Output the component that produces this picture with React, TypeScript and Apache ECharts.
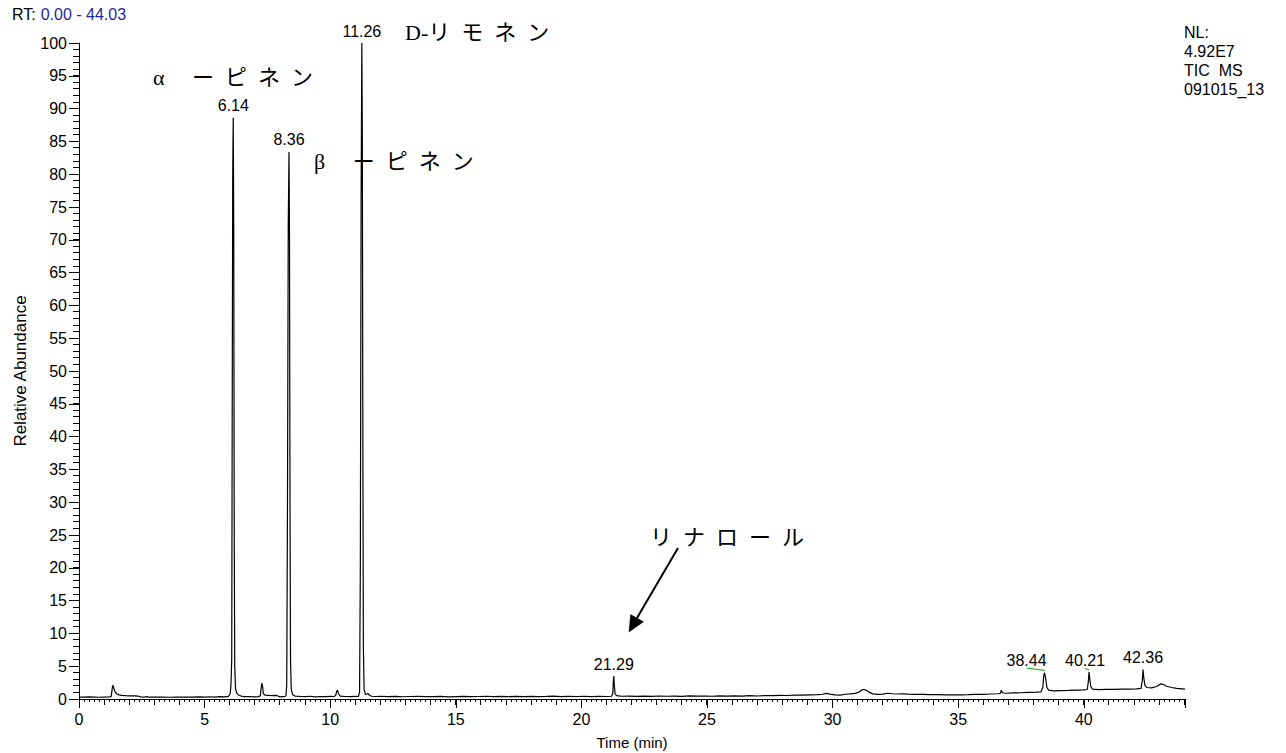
import React, { useEffect, useRef } from "react";
import * as echarts from "echarts";

// Chromatogram trace: [retention time (min), relative abundance (%)]
const chromatogram: [number, number][] = [
  [0.0, 0.3], [0.2, 0.28], [0.4, 0.32], [0.6, 0.3], [0.8, 0.27], [1.0, 0.3], [1.2, 0.31],
  [1.28, 0.35], [1.31, 1.2], [1.34, 2.1], [1.37, 1.9], [1.41, 1.3], [1.46, 0.95], [1.52, 0.75],
  [1.6, 0.62], [1.7, 0.55], [1.85, 0.5], [2.0, 0.48], [2.2, 0.47], [2.35, 0.45], [2.45, 0.33],
  [2.6, 0.3], [2.7, 0.36], [2.75, 0.3], [3.0, 0.28], [3.3, 0.3], [3.6, 0.27], [3.9, 0.3],
  [4.2, 0.28], [4.5, 0.3], [4.8, 0.32], [5.0, 0.29], [5.2, 0.34], [5.4, 0.3], [5.6, 0.35],
  [5.8, 0.31], [5.95, 0.4], [6.02, 0.8], [6.05, 2.2], [6.08, 6], [6.1, 45], [6.12, 80],
  [6.14, 88.6], [6.16, 72], [6.18, 25], [6.2, 5], [6.23, 1.6], [6.28, 0.9], [6.35, 0.6],
  [6.45, 0.45], [6.6, 0.35], [6.8, 0.38], [7.0, 0.33], [7.15, 0.36], [7.22, 0.5], [7.25, 1.6],
  [7.28, 2.4], [7.31, 1.9], [7.34, 0.8], [7.4, 0.6], [7.55, 0.55], [7.7, 0.52], [7.85, 0.55],
  [7.92, 0.45], [8.0, 0.33], [8.15, 0.35], [8.24, 0.45], [8.27, 2.2], [8.3, 30], [8.33, 72],
  [8.36, 83.4], [8.38, 70], [8.4, 30], [8.42, 6], [8.45, 1.5], [8.5, 0.7], [8.6, 0.45],
  [8.8, 0.4], [9.0, 0.36], [9.2, 0.42], [9.4, 0.33], [9.6, 0.38], [9.8, 0.35], [10.0, 0.4],
  [10.15, 0.38], [10.22, 0.55], [10.26, 1.2], [10.29, 1.35], [10.33, 0.8], [10.4, 0.45],
  [10.6, 0.38], [10.8, 0.36], [11.0, 0.4], [11.12, 0.38], [11.17, 1.0], [11.2, 20], [11.23, 75],
  [11.26, 100], [11.28, 85], [11.3, 40], [11.32, 8], [11.35, 1.5], [11.4, 0.7], [11.45, 0.75],
  [11.5, 0.85], [11.55, 0.6], [11.65, 0.42], [11.8, 0.38], [12.0, 0.42], [12.3, 0.36],
  [12.6, 0.4], [12.9, 0.34], [13.2, 0.38], [13.5, 0.41], [13.8, 0.35], [14.1, 0.37], [14.4, 0.4],
  [14.7, 0.33], [15.0, 0.36], [15.3, 0.39], [15.6, 0.35], [15.9, 0.38], [16.2, 0.42], [16.5, 0.36],
  [16.8, 0.39], [17.1, 0.35], [17.4, 0.4], [17.7, 0.37], [18.0, 0.41], [18.3, 0.36], [18.6, 0.39],
  [18.9, 0.43], [19.2, 0.37], [19.5, 0.4], [19.8, 0.38], [20.1, 0.42], [20.4, 0.37], [20.7, 0.4],
  [21.0, 0.38], [21.2, 0.42], [21.25, 0.8], [21.27, 2.6], [21.29, 3.5], [21.31, 2.2], [21.34, 0.8],
  [21.4, 0.5], [21.6, 0.42], [21.9, 0.45], [22.2, 0.4], [22.5, 0.44], [22.8, 0.41], [23.1, 0.46],
  [23.4, 0.42], [23.7, 0.45], [24.0, 0.4], [24.3, 0.47], [24.6, 0.43], [24.9, 0.46], [25.2, 0.42],
  [25.5, 0.48], [25.8, 0.44], [26.1, 0.47], [26.4, 0.45], [26.7, 0.5], [27.0, 0.46], [27.3, 0.52],
  [27.6, 0.5], [27.9, 0.55], [28.2, 0.53], [28.5, 0.6], [28.8, 0.58], [29.1, 0.62], [29.4, 0.66],
  [29.6, 0.72], [29.75, 0.85], [29.9, 0.75], [30.1, 0.62], [30.3, 0.6], [30.5, 0.72], [30.7, 0.78],
  [30.9, 0.85], [31.05, 1.05], [31.2, 1.45], [31.3, 1.4], [31.45, 1.05], [31.6, 0.78], [31.8, 0.7],
  [32.0, 0.75], [32.2, 0.88], [32.4, 0.8], [32.6, 0.76], [32.8, 0.8], [33.0, 0.74], [33.3, 0.72],
  [33.6, 0.7], [33.9, 0.68], [34.2, 0.66], [34.5, 0.64], [34.8, 0.62], [35.1, 0.64], [35.4, 0.66],
  [35.7, 0.7], [36.0, 0.72], [36.3, 0.76], [36.6, 0.8], [36.68, 0.85], [36.72, 1.35], [36.76, 0.95],
  [36.9, 0.88], [37.2, 0.92], [37.5, 0.95], [37.8, 1.0], [38.1, 1.05], [38.3, 1.1], [38.37, 1.8],
  [38.41, 3.6], [38.44, 4.0], [38.48, 3.2], [38.53, 1.8], [38.6, 1.35], [38.8, 1.25], [39.1, 1.28],
  [39.4, 1.3], [39.7, 1.35], [40.0, 1.38], [40.14, 1.45], [40.18, 2.6], [40.21, 4.1], [40.24, 3.0],
  [40.28, 1.9], [40.35, 1.5], [40.6, 1.42], [40.9, 1.46], [41.2, 1.48], [41.5, 1.5], [41.8, 1.52],
  [42.1, 1.55], [42.28, 1.62], [42.33, 2.8], [42.36, 4.5], [42.39, 3.2], [42.44, 2.0], [42.52, 1.75],
  [42.7, 1.7], [42.9, 1.9], [43.05, 2.3], [43.15, 2.25], [43.3, 1.95], [43.5, 1.75], [43.7, 1.62],
  [43.9, 1.55], [44.03, 1.5],
];

// Labelled peaks
const peakTimes = [6.14, 8.36, 11.26, 21.29, 38.44, 40.21, 42.36];
const peakHeights = [88.6, 83.4, 100, 3.5, 4.0, 4.1, 4.5];
const peakLabels = ["6.14", "8.36", "11.26", "21.29", "38.44", "40.21", "42.36"];

// Compound annotations
const compoundNames = ["α ーピネン", "β ーピネン", "D-リモネン", "リナロール"];

const X_MIN = 0;
const X_MAX = 44.03;
const Y_MIN = 0;
const Y_MAX = 100;

const AXIS_FONT = "Arial, 'Liberation Sans', sans-serif";
const JP_FONT = "'Liberation Serif', 'Noto Sans CJK JP', serif";

export default function App() {
  const ref = useRef<HTMLDivElement>(null);

  useEffect(() => {
    if (!ref.current) return;
    const chart = echarts.init(ref.current, undefined, { renderer: "svg" });

    const labelShift: Record<string, number[]> = { "38.44": [-18, 0], "40.21": [-4, 0] };

    const spaced = (s: string) => s.split("").join("\u2002");

    const jpText = (text: string, x: number, y: number) => ({
      type: "text",
      x,
      y,
      style: {
        text,
        fill: "#000",
        fontSize: 22,
        fontFamily: JP_FONT,
        textAlign: "left",
        textVerticalAlign: "middle",
        align: "left",
        verticalAlign: "middle",
      },
    });

    const option: any = {
      animation: false,
      backgroundColor: "#ffffff",
      title: [
        {
          text: "{a|RT:} {b|0.00 - 44.03}",
          left: 12,
          top: 5,
          padding: 0,
          textStyle: {
            fontWeight: "normal",
            rich: {
              a: { color: "#000", fontSize: 16, fontFamily: AXIS_FONT, fontWeight: "normal" },
              b: { color: "#1f1fa3", fontSize: 16, fontFamily: AXIS_FONT, fontWeight: "normal" },
            },
          },
        },
        {
          text: "NL:\n4.92E7\nTIC  MS\n091015_13",
          left: 1184,
          top: 23,
          padding: 0,
          textStyle: {
            color: "#000",
            fontSize: 16,
            fontWeight: "normal",
            fontFamily: AXIS_FONT,
            lineHeight: 19,
          },
        },
      ],
      grid: {
        left: 79,
        right: 101,
        top: 43,
        bottom: 54,
        containLabel: false,
        outerBoundsMode: "none",
      },
      xAxis: {
        type: "value",
        min: X_MIN,
        max: X_MAX,
        interval: 5,
        position: "bottom",
        splitLine: { show: false },
        axisLine: { show: true, onZero: false, lineStyle: { color: "#000", width: 1 } },
        axisTick: { show: true, inside: false, length: 9, lineStyle: { color: "#000", width: 1 } },
        axisLabel: {
          show: true,
          color: "#000",
          fontSize: 16,
          fontFamily: AXIS_FONT,
          margin: 12,
          formatter: (v: number) =>
            Math.abs(v / 5 - Math.round(v / 5)) < 1e-6 ? String(Math.round(v)) : "",
        },
        name: "Time (min)",
        nameLocation: "middle",
        nameGap: 36,
        nameTextStyle: { color: "#000", fontSize: 15, fontFamily: AXIS_FONT },
      },
      yAxis: {
        type: "value",
        min: Y_MIN,
        max: Y_MAX,
        interval: 5,
        position: "left",
        splitLine: { show: false },
        axisLine: { show: true, onZero: false, lineStyle: { color: "#000", width: 1 } },
        axisTick: { show: true, inside: false, length: 10, lineStyle: { color: "#000", width: 1 } },
        minorTick: { show: false },
        axisLabel: {
          show: true,
          color: "#000",
          fontSize: 16,
          fontFamily: AXIS_FONT,
          margin: 12,
        },
        name: "Relative Abundance",
        nameLocation: "middle",
        nameGap: 46,
        nameTextStyle: { color: "#000", fontSize: 17, fontFamily: AXIS_FONT },
      },
      series: [
        {
          type: "line",
          name: "TIC",
          data: chromatogram,
          showSymbol: false,
          symbol: "none",
          smooth: false,
          clip: false,
          lineStyle: { color: "#000", width: 1.2 },
          z: 3,
          markLine: {
            silent: true,
            symbol: ["none", "none"],
            label: { show: false },
            lineStyle: { color: "#3cb43c", width: 1.2, type: "solid" },
            data: [
              [{ coord: [37.72, 4.7] }, { coord: [38.46, 4.35] }],
              [{ coord: [40.05, 4.7] }, { coord: [40.21, 4.4] }],
            ],
          },
        },
        {
          type: "scatter",
          name: "peaks",
          symbolSize: 0,
          silent: true,
          clip: false,
          data: peakTimes.map((t, i) => ({
            value: [t, peakHeights[i]],
            name: peakLabels[i],
            label: labelShift[peakLabels[i]] ? { offset: labelShift[peakLabels[i]] } : undefined,
          })),
          label: {
            show: true,
            position: "top",
            distance: 4,
            formatter: "{b}",
            color: "#000",
            opacity: 1,
            fontSize: 16,
            fontWeight: "normal",
            fontFamily: AXIS_FONT,
          },
          z: 4,
        },
      ],
    };

    chart.setOption(option);

    // Fine graduations, placed through the axis scales (crisp 1px bars)
    const fineTicks: any[] = [];
    const origin = chart.convertToPixel({ gridIndex: 0 }, [X_MIN, Y_MIN]) as number[];
    const axisY = Math.round(origin[1]);
    const axisX = Math.round(origin[0]);
    const addXTicks = (step: number, len: number) => {
      const n = Math.floor(X_MAX / step + 1e-6);
      for (let k = 0; k <= n; k++) {
        const v = Math.round(k * step * 1000) / 1000;
        const p = chart.convertToPixel({ gridIndex: 0 }, [v, Y_MIN]) as number[];
        if (!p || !isFinite(p[0])) continue;
        fineTicks.push({
          type: "rect",
          silent: true,
          z: 10,
          shape: { x: Math.floor(p[0]), y: axisY, width: 1, height: len },
          style: { fill: "#000" },
        });
      }
    };
    const addYTicks = (step: number, len: number) => {
      const n = Math.floor(Y_MAX / step + 1e-6);
      for (let k = 0; k <= n; k++) {
        const v = k * step;
        const p = chart.convertToPixel({ gridIndex: 0 }, [X_MIN, v]) as number[];
        if (!p || !isFinite(p[1])) continue;
        fineTicks.push({
          type: "rect",
          silent: true,
          z: 10,
          shape: { x: axisX - len, y: Math.floor(p[1]), width: len, height: 1 },
          style: { fill: "#000" },
        });
      }
    };
    addXTicks(1, 6);
    addXTicks(0.2, 3);
    addYTicks(1, 6);

    chart.setOption({
      graphic: [
        jpText(spaced(compoundNames[0]), 153, 77),
        jpText(spaced(compoundNames[1]), 314, 161),
        jpText("D-" + spaced(compoundNames[2].slice(2)), 405, 32),
        jpText(spaced(compoundNames[3]), 650, 537),
        {
          type: "line",
          shape: { x1: 678, y1: 548, x2: 637, y2: 618 },
          style: { stroke: "#000", lineWidth: 2 },
        },
        {
          type: "polygon",
          shape: { points: [[629, 632], [643.5, 621.8], [630.6, 614.6]] },
          style: { fill: "#000", stroke: "#000", lineWidth: 0.5 },
        },
        ...fineTicks,
      ],
    });

    return () => chart.dispose();
  }, []);

  return (
    <div
      ref={ref}
      style={{ position: "fixed", left: 0, top: 0, width: 1286, height: 753, background: "#fff" }}
    />
  );
}
